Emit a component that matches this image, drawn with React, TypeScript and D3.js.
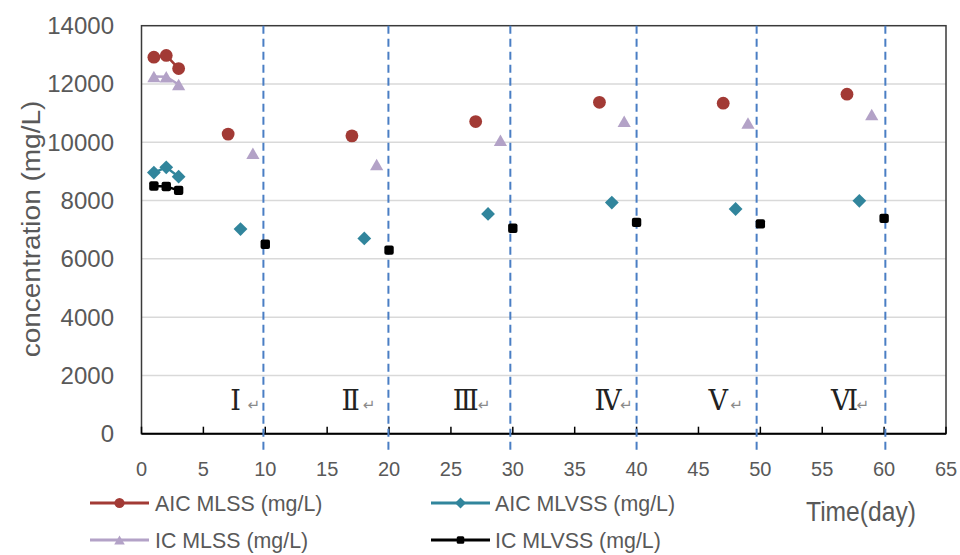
import React from "react";
import * as d3 from "d3";

const aicMlssDays = [1, 2, 3, 7, 17, 27, 37, 47, 57];
const aicMlss = [12920, 12980, 12530, 10280, 10220, 10710, 11370, 11340, 11650];
const icMlssDays = [1, 2, 3, 9, 19, 29, 39, 49, 59];
const icMlss = [12260, 12250, 11980, 9620, 9240, 10070, 10720, 10660, 10950];
const aicMlvssDays = [1, 2, 3, 8, 18, 28, 38, 48, 58];
const aicMlvss = [8960, 9140, 8820, 7020, 6700, 7540, 7930, 7710, 7990];
const icMlvssDays = [1, 2, 3, 10, 20, 30, 40, 50, 60];
const icMlvss = [8500, 8480, 8350, 6500, 6300, 7050, 7250, 7200, 7390];

const xTicks = [0, 5, 10, 15, 20, 25, 30, 35, 40, 45, 50, 55, 60, 65];
const yTicks = [0, 2000, 4000, 6000, 8000, 10000, 12000, 14000];
const dividerDays = [9.85, 19.95, 29.8, 40.0, 49.7, 60.1];
const phaseLabels = ["Ⅰ", "Ⅱ", "Ⅲ", "Ⅳ", "Ⅴ", "Ⅵ"];
const phaseLabelDays = [7.6, 16.9, 26.2, 37.7, 46.6, 56.8];
const seriesNames = ["AIC MLSS (mg/L)", "AIC MLVSS (mg/L)", "IC MLSS (mg/L)", "IC MLVSS (mg/L)"];

const FONT = "'Liberation Sans', Arial, sans-serif";
const TXT = "#595959";

type Shape = "circle" | "diamond" | "triangle" | "square";

function Marker({ shape, x, y, color, s = 1 }: { shape: Shape; x: number; y: number; color: string; s?: number }) {
  if (shape === "circle") return <circle cx={x} cy={y} r={6.4 * s} fill={color} />;
  if (shape === "diamond") {
    const r = 6.9 * s;
    return <path d={`M${x},${y - r}L${x + r},${y}L${x},${y + r}L${x - r},${y}Z`} fill={color} />;
  }
  if (shape === "triangle") {
    const w = 6.6 * s, h = 11.5 * s;
    return <path d={`M${x},${y - h / 2}L${x + w},${y + h / 2}L${x - w},${y + h / 2}Z`} fill={color} />;
  }
  const a = 4.7 * s;
  return <rect x={x - a} y={y - a} width={2 * a} height={2 * a} rx={2 * s} fill={color} />;
}

export default function App() {
  const x = d3.scaleLinear().domain([0, 65]).range([141.5, 946]);
  const y = d3.scaleLinear().domain([0, 14000]).range([433.7, 25.7]);

  const series = [
    { name: seriesNames[0], days: aicMlssDays, vals: aicMlss, color: "#A23A35", shape: "circle" as Shape },
    { name: seriesNames[1], days: aicMlvssDays, vals: aicMlvss, color: "#31859C", shape: "diamond" as Shape },
    { name: seriesNames[2], days: icMlssDays, vals: icMlss, color: "#B3A2C7", shape: "triangle" as Shape },
    { name: seriesNames[3], days: icMlvssDays, vals: icMlvss, color: "#000000", shape: "square" as Shape },
  ];

  const line = d3
    .line<[number, number]>()
    .x((d) => x(d[0]))
    .y((d) => y(d[1]));

  const runs = (days: number[], vals: number[]) => {
    const out: [number, number][][] = [];
    let cur: [number, number][] = [];
    days.forEach((dd, i) => {
      if (cur.length && dd - cur[cur.length - 1][0] !== 1) {
        out.push(cur);
        cur = [];
      }
      cur.push([dd, vals[i]]);
    });
    if (cur.length) out.push(cur);
    return out.filter((r) => r.length > 1);
  };

  const drawOrder = [3, 1, 2, 0];

  const legendPos = [
    { lx: 90, ly: 503, tx: 155 },
    { lx: 431, ly: 503, tx: 495 },
    { lx: 90, ly: 540, tx: 155 },
    { lx: 431, ly: 540, tx: 495 },
  ];

  return (
    <svg
      width={960}
      height={555}
      style={{ position: "absolute", left: 0, top: 0, background: "#fff" }}
      fontFamily={FONT}
    >
      <rect x={0} y={0} width={960} height={555} fill="#fff" />
      {yTicks.slice(1, -1).map((t) => (
        <line key={t} x1={x(0)} x2={x(65)} y1={y(t)} y2={y(t)} stroke="#D9D9D9" strokeWidth={1.5} />
      ))}
      <rect x={x(0)} y={y(14000)} width={x(65) - x(0)} height={y(0) - y(14000)} fill="none" stroke="#3a3a3a" strokeWidth={1.5} />
      <line x1={x(0)} x2={x(65)} y1={y(0)} y2={y(0)} stroke="#000" strokeWidth={2} />
      {xTicks.map((t) => (
        <line key={t} x1={x(t)} x2={x(t)} y1={y(0)} y2={y(0) - 7} stroke="#000" strokeWidth={1.5} />
      ))}
      {dividerDays.map((dd, i) => (
        <line
          key={i}
          x1={x(dd)}
          x2={x(dd)}
          y1={y(14000)}
          y2={452}
          stroke="#4A7EC4"
          strokeWidth={2}
          strokeDasharray="8 5"
        />
      ))}
      {phaseLabels.map((l, i) => (
        <g key={l}>
          <text
            x={x(phaseLabelDays[i])}
            y={410}
            fontFamily="'Liberation Serif', 'DejaVu Serif', serif"
            fontSize={27}
            fill="#222"
            textAnchor="middle"
          >
            {l}
          </text>
          <text x={x(phaseLabelDays[i]) + 12} y={410} fontSize={15} fill="#8a8a8a" fontFamily="'DejaVu Sans', sans-serif">
            ↵
          </text>
        </g>
      ))}
      {drawOrder.map((si) => {
        const s = series[si];
        return runs(s.days, s.vals).map((r, j) => (
          <path key={`${si}-${j}`} d={line(r) || ""} fill="none" stroke={s.color} strokeWidth={2.5} />
        ));
      })}
      {drawOrder.map((si) => {
        const s = series[si];
        return s.days.map((dd, i) => (
          <Marker key={`${si}-${i}`} shape={s.shape} x={x(dd)} y={y(s.vals[i])} color={s.color} />
        ));
      })}
      {yTicks.map((t) => (
        <text key={t} x={114} y={y(t)} dy="0.35em" textAnchor="end" fontSize={24} fill={TXT}>
          {t}
        </text>
      ))}
      {xTicks.map((t) => (
        <text key={t} x={x(t)} y={476} textAnchor="middle" fontSize={20} fill={TXT}>
          {t}
        </text>
      ))}
      <text transform="translate(40,229) rotate(-90) scale(1.12,1)" textAnchor="middle" fontSize={25} fill={TXT}>
        concentration (mg/L)
      </text>
      <text transform="translate(806,521) scale(0.88,1)" fontSize={28} fill={TXT}>
        Time(day)
      </text>
      {series.map((s, i) => {
        const p = legendPos[i];
        return (
          <g key={s.name}>
            <line x1={p.lx} x2={p.lx + 59} y1={p.ly} y2={p.ly} stroke={s.color} strokeWidth={3} />
            <Marker shape={s.shape} x={p.lx + 29.5} y={p.ly} color={s.color} s={0.8} />
            <text transform={`translate(${p.tx},${p.ly + 8}) scale(0.93,1)`} fontSize={23} fill={TXT}>
              {s.name}
            </text>
          </g>
        );
      })}
    </svg>
  );
}
